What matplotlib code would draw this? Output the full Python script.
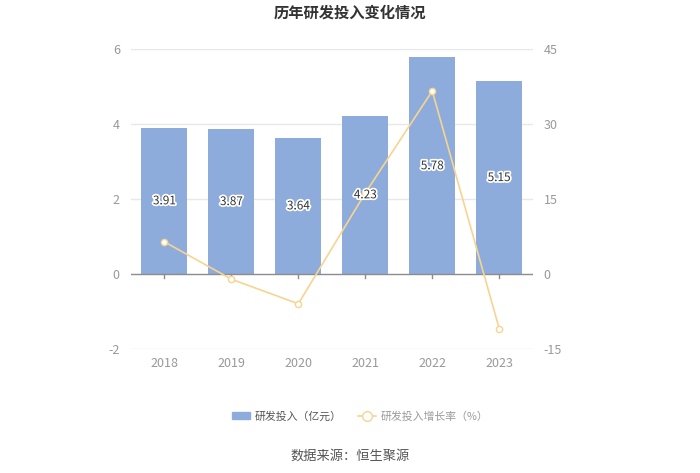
import numpy as np
import matplotlib.pyplot as plt
import matplotlib.patheffects as pe
from matplotlib.patches import Patch
from matplotlib.lines import Line2D

plt.rcParams['font.family'] = ['Noto Sans CJK SC', 'DejaVu Sans']
plt.rcParams['axes.unicode_minus'] = False

years = ['2018', '2019', '2020', '2021', '2022', '2023']
rd = [3.91, 3.87, 3.64, 4.23, 5.78, 5.15]
growth = [6.46, -1.02, -5.94, 16.21, 36.64, -10.90]

bar_color = '#8eacdb'
line_color = '#f7d490'
tick_color = '#999999'

fig = plt.figure(figsize=(7, 4.73), dpi=100)
ax = fig.add_axes([0.187, 0.262, 0.574, 0.634])
x = np.arange(len(years))
ax.bar(x, rd, width=0.69, color=bar_color, zorder=2)

ax.set_ylim(-2, 6)
ax.set_yticks([-2, 0, 2, 4, 6])
ax.set_xlim(-0.5, 5.5)
ax.set_xticks(x)
ax.set_xticklabels(years)
for y in [-2, 2, 4, 6]:
    ax.axhline(y, color='#e8e8e8', lw=1, zorder=0)
ax.axhline(0, color='#8c8c8c', lw=1, zorder=3)
for s in ax.spines.values():
    s.set_visible(False)
ax.tick_params(axis='y', length=0, colors=tick_color, labelsize=9, pad=8)
ax.tick_params(axis='x', length=0, colors=tick_color, labelsize=9, pad=6)
for xi in x:
    ax.plot([xi, xi], [0, -0.1], color='#8c8c8c', lw=1, zorder=3, clip_on=False)

ax2 = ax.twinx()
ax2.plot(x, growth, color=line_color, lw=1.2, marker='o', markersize=4.5,
         markerfacecolor='white', markeredgecolor=line_color, zorder=4)
ax2.set_ylim(-15, 45)
ax2.set_yticks([-15, 0, 15, 30, 45])
for s in ax2.spines.values():
    s.set_visible(False)
ax2.tick_params(axis='y', length=0, colors=tick_color, labelsize=9, pad=8)

# bar labels drawn on top of the line
for xi, v in zip(x, rd):
    ax2.text(xi, (v / 2 + 2) * 7.5 - 15, f'{v:.2f}', ha='center', va='center', fontsize=8.5,
             color='#333333', zorder=6,
             path_effects=[pe.withStroke(linewidth=2.5, foreground='white')])

fig.text(0.5, 0.974, '历年研发投入变化情况', ha='center', va='center', fontsize=11,
         fontweight='bold', color='#333333')

handles = [Patch(facecolor=bar_color, edgecolor=bar_color),
           Line2D([0], [0], color=line_color, lw=1.2, marker='o', markersize=7,
                  markerfacecolor='white', markeredgecolor=line_color)]
leg = fig.legend(handles, ['研发投入（亿元）', '研发投入增长率（%）'], loc='center',
                 bbox_to_anchor=(0.515, 0.12), ncol=2, frameon=False, fontsize=7.8,
                 handlelength=1.6, handletextpad=0.5, columnspacing=1.5)
leg.get_texts()[0].set_color('#555555')
leg.get_texts()[1].set_color('#999999')

fig.text(0.5, 0.036, '数据来源：恒生聚源', ha='center', va='center', fontsize=9.5,
         color='#555555')

fig.savefig('out.png', dpi=100)
